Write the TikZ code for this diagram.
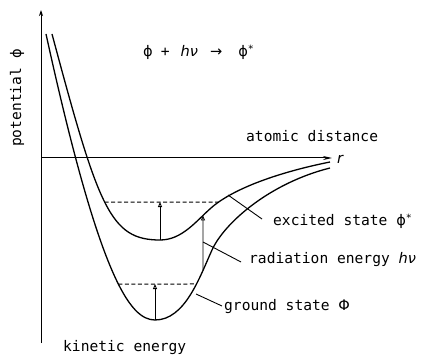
\documentclass[tikz,border=0pt]{standalone}
\usepackage{fontspec}
\setmainfont{DejaVu Sans Mono}
\newfontfamily\grk{DejaVu Sans}
\usetikzlibrary{arrows.meta,intersections}
\newcommand{\phs}{{\grk ϕ}}
\newcommand{\astr}{{\fontsize{10}{10}\selectfont\raisebox{4pt}{*}}}
\begin{document}
\begin{tikzpicture}[x=1pt,y=-1pt,
  axis/.style={line width=1pt},
  curve/.style={line width=1.3pt},
  level/.style={line width=1pt,dash pattern=on 4pt off 2.5pt},
  up/.style={line width=0.9pt,-{Triangle[open,length=5pt,width=4pt]}},
  leader/.style={line width=0.9pt},
  lbl/.style={font=\fontsize{14.6}{16}\selectfont, inner sep=0pt, anchor=base west},
]
\useasboundingbox (0,0) rectangle (423,355);
% axes
\coordinate (ybot) at (41,343);
\coordinate (ytop) at (41,10);
\coordinate (O) at (41,158);
\coordinate (xend) at (332,158);
\draw[axis,-{Stealth[length=6pt,width=4pt]}] (ybot) -- (ytop);
\draw[axis,-{Stealth[length=9pt,width=4pt]}] (O) -- (xend);
% curves
\draw[curve,name path=ground] (46,34) .. controls (99.5,278) and (130,320) .. (155,320)
  .. controls (185,320) and (199.6,277.3) .. (212,250)
  .. controls (224.4,222.7) and (270,183) .. (330,168);
\draw[curve,name path=excited] (52,34) .. controls (98.6,207.9) and (110,240) .. (160,240)
  .. controls (182,240) and (196,221.2) .. (211,208)
  .. controls (233.5,188.2) and (280,172) .. (330,162);
% helper lines
\path[name path=hg] (41,284) -- (340,284);
\path[name path=he] (41,202) -- (340,202);
\path[name path=vr] (203,150) -- (203,335);
\path[name intersections={of=ground and hg, sort by=hg, by={g1,g2}}];
\path[name intersections={of=excited and he, sort by=he, by={e1,e2}}];
\path[name intersections={of=ground and vr, by={rg}}];
\path[name intersections={of=excited and vr, by={re}}];
% levels
\draw[level] (g1) -- (g2);
\draw[level] (e1) -- (e2);
% arrows
\coordinate (gmin) at (155,320);
\coordinate (emin) at (160,240);
\draw[up] (gmin) -- (gmin |- g1);
\draw[up] (emin) -- (emin |- e1);
\draw[up] (rg) -- (re);
% leaders
\coordinate (le1) at (228,195);
\coordinate (le2) at (262,219);
\coordinate (lr1) at (203,242);
\coordinate (lr2) at (241,262);
\coordinate (lg1) at (196,294);
\coordinate (lg2) at (222,306);
\draw[leader] (le1) -- (le2);
\draw[leader] (lr1) -- (lr2);
\draw[leader] (lg1) -- (lg2);
% labels
\node[lbl] (eq) at (143,57) {\phs\hspace{8pt}+\hspace{11pt}{\grk\itshape hν}\hspace{12pt}{\grk →}\hspace{16pt}\phs\astr};
\node[lbl,rotate=90] (pot) at (21,147) {potential \phs};
\node[lbl] (ad) at (246,142) {atomic distance};
\node[lbl] (r) at (337,164) {{\grk\itshape r}};
\node[lbl] (ex) at (273,226) {excited state \phs\astr};
\node[lbl] (rad) at (249,264) {radiation energy {\grk\itshape hν}};
\node[lbl] (gs) at (224,311) {ground state {\grk Φ}};
\node[lbl] (ke) at (63,352) {kinetic energy};
\end{tikzpicture}
\end{document}
